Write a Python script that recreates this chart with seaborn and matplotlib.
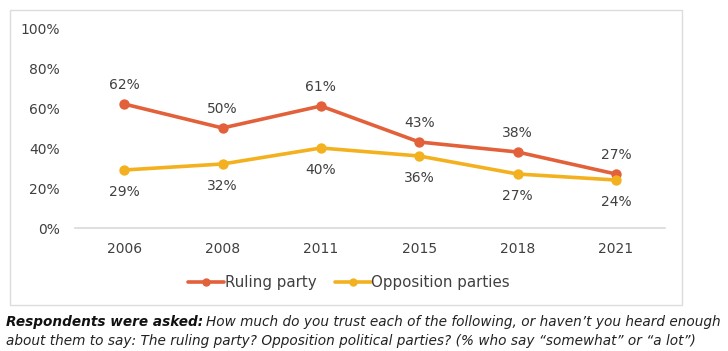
import matplotlib
matplotlib.use("Agg")
import matplotlib.pyplot as plt
import seaborn as sns
import pandas as pd
from matplotlib.patches import Rectangle
from matplotlib.lines import Line2D

years = ["2006", "2008", "2011", "2015", "2018", "2021"]
ruling = [62, 50, 61, 43, 38, 27]
opposition = [29, 32, 40, 36, 27, 24]
series_names = ["Ruling party", "Opposition parties"]
colors = {"Ruling party": "#E2603A", "Opposition parties": "#F3B11F"}
y_ticks = [0, 20, 40, 60, 80, 100]

df = pd.DataFrame({
    "year": years * 2,
    "value": ruling + opposition,
    "series": [series_names[0]] * len(years) + [series_names[1]] * len(years),
})

sns.set_theme(style="white")
plt.rcParams["font.family"] = ["DejaVu Sans"]

W, H = 728, 351
fig = plt.figure(figsize=(W / 100, H / 100), dpi=100)

def fx(px): return px / W
def fy(py): return 1 - py / H

ax = fig.add_axes([fx(75), fy(228), fx(665) - fx(75), fy(28) - fy(228)])
sns.pointplot(data=df, x="year", y="value", hue="series", order=years,
              hue_order=series_names, palette=colors, markers="o",
              markersize=5.5, linewidth=2.6, ax=ax, legend=False)

ax.set_xlim(-0.5, 5.5)
ax.set_ylim(0, 100)
ax.set_yticks(y_ticks)
ax.set_yticklabels([f"{v}%" for v in y_ticks])
ax.set_xlabel("")
ax.set_ylabel("")
for s in ["top", "right", "left"]:
    ax.spines[s].set_visible(False)
ax.spines["bottom"].set_color("#d9d9d9")
ax.spines["bottom"].set_linewidth(1.2)
ax.tick_params(axis="both", length=0, labelsize=10, colors="#404040")
ax.tick_params(axis="y", pad=11)
ax.tick_params(axis="x", pad=10)
ax.grid(False)

for i, v in enumerate(ruling):
    ax.annotate(f"{v}%", (i, v), xytext=(0, 14), textcoords="offset points",
                ha="center", va="center", fontsize=10, color="#404040")
for i, v in enumerate(opposition):
    ax.annotate(f"{v}%", (i, v), xytext=(0, -16), textcoords="offset points",
                ha="center", va="center", fontsize=10, color="#404040")

handles = [Line2D([0], [0], color=colors[n], marker="o", markersize=5, lw=2.6) for n in series_names]
fig.legend(handles, series_names, loc="center", bbox_to_anchor=(fx(349), fy(283)),
           ncol=2, frameon=False, fontsize=10.8, handlelength=2.4, handletextpad=0.05,
           columnspacing=1.2, labelcolor="#404040")

fig.patches.append(Rectangle((fx(10), fy(305)), fx(682) - fx(10), fy(10) - fy(305),
                             transform=fig.transFigure, fill=False,
                             edgecolor="#dcdcdc", lw=1.0))

footer_bold = "Respondents were asked:"
footer_1 = "How much do you trust each of the following, or haven\u2019t you heard enough"
footer_2 = "about them to say: The ruling party? Opposition political parties? (% who say \u201csomewhat\u201d or \u201ca lot\u201d)"

fs = 10
t1 = fig.text(fx(6), fy(322), footer_bold, fontsize=fs,
              fontweight="bold", style="italic", va="center", ha="left", color="#111111")
fig.canvas.draw()
bb = t1.get_window_extent()
t2 = fig.text(bb.x1 / W + fx(3), fy(322), footer_1, fontsize=fs, style="italic",
              va="center", ha="left", color="#222222")
fig.canvas.draw()
end = t2.get_window_extent().x1
fs2 = fs * (720 - 6) / (end - 6)
t1.set_fontsize(fs2)
fig.canvas.draw()
bb = t1.get_window_extent()
t2.set_x(bb.x1 / W + fx(3))
t2.set_fontsize(fs2)
fig.text(fx(6), fy(341), footer_2, fontsize=fs2, style="italic", va="center", ha="left", color="#222222")

fig.savefig("out.png", dpi=100)
